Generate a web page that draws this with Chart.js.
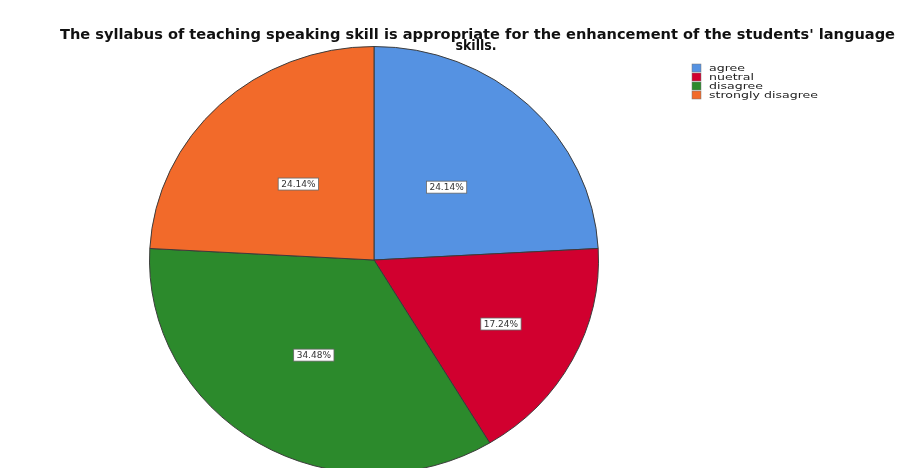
<!DOCTYPE html>
<html>
<head>
<meta charset="utf-8">
<script src="https://cdn.jsdelivr.net/npm/chart.js@4.4.1/dist/chart.umd.min.js"></script>
<style>
  html, body { margin: 0; padding: 0; background: #fff; overflow: hidden; }
  #wrap { width: 906px; height: 468px; position: relative; overflow: hidden; }
</style>
</head>
<body>
<div id="wrap"><canvas id="pieChart" width="906" height="520"></canvas></div>
<script>
// data
const categories = ['agree', 'nuetral', 'disagree', 'strongly disagree'];
const percents = [24.14, 17.24, 34.48, 24.14];
const sliceColors = ['#5592e2', '#d1002f', '#2c8a2c', '#f26a2a'];
const titleLines = ["The syllabus of teaching speaking skill is appropriate for the enhancement of the students' language", 'skills.'];

// the source image is stretched sideways, so squash the pie vertically
const squashY = 0.951;
// where each label sits along the slice radius (SPSS puts them a bit unevenly)
const labelRadius = [0.47, 0.64, 0.52, 0.49];

// draw text squeezed/stretched to a given width
function fitText(ctx, txt, x, y, width) {
    const w = ctx.measureText(txt).width;
    ctx.save();
    ctx.translate(x, y);
    ctx.scale(width / w, 1);
    ctx.fillText(txt, 0, 0);
    ctx.restore();
}

const squash = {
    id: 'squash',
    beforeDatasetsDraw(chart) {
        const a = chart.chartArea;
        const cy = (a.top + a.bottom) / 2;
        chart.ctx.save();
        chart.ctx.translate(0, cy);
        chart.ctx.scale(1, squashY);
        chart.ctx.translate(0, -cy);
    },
    afterDatasetsDraw(chart) {
        chart.ctx.restore();
    }
};

// title + legend + value boxes drawn by hand, SPSS style
const spssDecor = {
    id: 'spssDecor',
    afterDraw(chart) {
        const ctx = chart.ctx;
        ctx.save();
        ctx.fillStyle = '#111';
        ctx.textBaseline = 'middle';
        ctx.textAlign = 'left';
        ctx.font = 'bold 14px "DejaVu Sans Condensed", "DejaVu Sans", sans-serif';
        fitText(ctx, titleLines[0], 60, 35, 835);
        ctx.textAlign = 'center';
        ctx.fillText(titleLines[1], 476, 46);

        // legend
        ctx.textAlign = 'left';
        ctx.font = '9px "DejaVu Sans", sans-serif';
        const k = 109 / ctx.measureText(categories[3]).width;
        categories.forEach((c, i) => {
            const y = 64 + i * 9;
            ctx.fillStyle = sliceColors[i];
            ctx.fillRect(692, y, 9, 8);
            ctx.strokeStyle = '#777';
            ctx.lineWidth = 0.5;
            ctx.strokeRect(692, y, 9, 8);
            ctx.fillStyle = '#222';
            fitText(ctx, c, 709, y + 4.5, ctx.measureText(c).width * k);
        });

        // value labels inside slices
        const meta = chart.getDatasetMeta(0);
        ctx.font = '9px "DejaVu Sans", sans-serif';
        ctx.textAlign = 'center';
        meta.data.forEach((arc, i) => {
            const p = arc.getProps(['x', 'y', 'startAngle', 'endAngle', 'outerRadius'], true);
            const mid = (p.startAngle + p.endAngle) / 2;
            const r = p.outerRadius * labelRadius[i];
            const lx = p.x + Math.cos(mid) * r;
            const ly = p.y + Math.sin(mid) * r * squashY;
            const txt = percents[i].toFixed(2) + '%';
            const w = ctx.measureText(txt).width + 6;
            ctx.fillStyle = '#fff';
            ctx.fillRect(lx - w / 2, ly - 6, w, 12);
            ctx.strokeStyle = '#666';
            ctx.lineWidth = 0.8;
            ctx.strokeRect(lx - w / 2, ly - 6, w, 12);
            ctx.fillStyle = '#333';
            ctx.fillText(txt, lx, ly + 0.5);
        });
        ctx.restore();
    }
};

const pieCtx = document.getElementById('pieChart').getContext('2d');
const pieChart = new Chart(pieCtx, {
    type: 'pie',
    data: {
        labels: categories,
        datasets: [{
            data: percents,
            backgroundColor: sliceColors,
            borderColor: '#3a3a3a',
            borderWidth: 1
        }]
    },
    options: {
        responsive: false,
        animation: false,
        layout: {
            padding: { left: 149, right: 307, top: 35, bottom: 35 }
        },
        plugins: {
            legend: { display: false },
            title: { display: false },
            tooltip: { enabled: false }
        }
    },
    plugins: [squash, spssDecor]
});
</script>
</body>
</html>
